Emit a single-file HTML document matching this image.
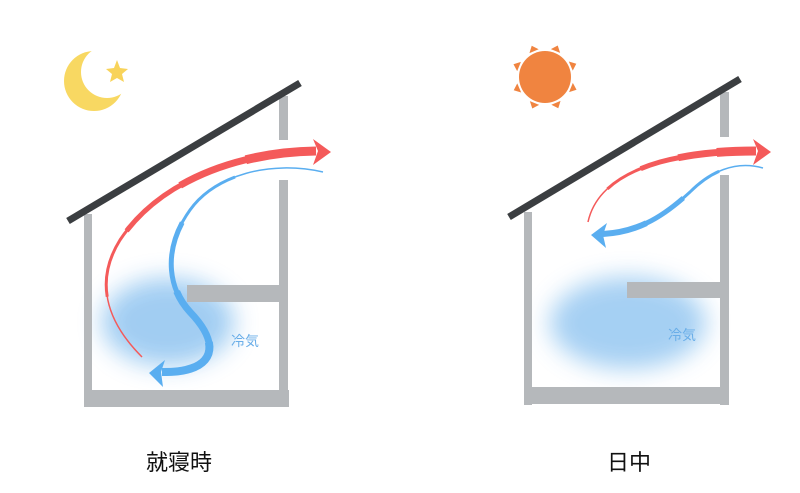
<!DOCTYPE html>
<html><head><meta charset="utf-8"><style>
html,body{margin:0;padding:0;background:#fff;}
svg{display:block}
text{font-family:"Liberation Sans","Noto Sans CJK JP",sans-serif;}
</style></head><body>
<svg width="800" height="493" viewBox="0 0 800 493" xmlns="http://www.w3.org/2000/svg">
<defs>
<filter id="blur" x="-50%" y="-50%" width="200%" height="200%"><feGaussianBlur stdDeviation="12"/></filter>
<mask id="moon"><rect width="800" height="493" fill="#000"/><circle cx="94" cy="81" r="30" fill="#fff"/><circle cx="107" cy="72" r="26" fill="#000"/></mask>
<path id="r1" d="M142,357 C105,320 95,280 120,240 C160,180 240,152 316,151" pathLength="100"/>
<path id="b1" d="M323,172 C270,160 215,175 190,210 C165,245 165,285 190,312 C215,338 215,358 195,367 C183,372 172,372 162,372" pathLength="100"/>
<path id="r2" d="M588,222 C595,190 625,172 660,162 C690,154 720,151 756,151" pathLength="100"/>
<path id="b2" d="M763,168 C735,160 710,172 690,192 C665,215 640,232 603,234" pathLength="100"/>
</defs>
<rect width="800" height="493" fill="#fff"/>

<!-- LEFT HOUSE -->
<ellipse cx="168" cy="322" rx="66" ry="44" fill="#9ccbf2" filter="url(#blur)" opacity="0.95"/>
<g fill="#b5b8bb">
<rect x="84" y="214" width="8" height="193"/>
<rect x="84" y="390" width="205" height="17"/>
<rect x="279" y="96" width="9" height="44"/>
<rect x="279" y="180" width="9" height="227"/>
<rect x="187" y="285" width="101" height="17"/>
</g>
<line x1="68" y1="221" x2="300" y2="83" stroke="#3b3e41" stroke-width="7"/>
<g fill="none" stroke="#f45a5a">
<use href="#r1" stroke-width="1.5"/>
<use href="#r1" stroke-width="3" stroke-dasharray="0 20 100"/>
<use href="#r1" stroke-width="5" stroke-dasharray="0 40 100"/>
<use href="#r1" stroke-width="7" stroke-dasharray="0 60 100"/>
<use href="#r1" stroke-width="9" stroke-dasharray="0 80 100"/>
</g>
<polygon points="331,152 313,139 318,151 313,165" fill="#f45a5a"/>
<g fill="none" stroke="#5aaef0">
<use href="#b1" stroke-width="1.5"/>
<use href="#b1" stroke-width="3" stroke-dasharray="0 25 100"/>
<use href="#b1" stroke-width="5" stroke-dasharray="0 45 100"/>
<use href="#b1" stroke-width="7" stroke-dasharray="0 65 100"/>
<use href="#b1" stroke-width="8" stroke-dasharray="0 82 100"/>
</g>
<polygon points="149,373 165,360 161,372 163,387" fill="#5aaef0"/>
<text x="231" y="346" font-size="14" fill="#6aaee8">冷気</text>
<rect x="55" y="45" width="70" height="75" fill="#f8d862" mask="url(#moon)"/>
<polygon points="117,60 120,68 128,69 122,74 124,82 117,78 110,82 112,74 106,69 114,68" fill="#f8d35a"/>

<!-- RIGHT HOUSE -->
<ellipse cx="628" cy="323" rx="78" ry="46" fill="#9ccbf2" filter="url(#blur)" opacity="0.9"/>
<g fill="#b5b8bb">
<rect x="524" y="212" width="8" height="193"/>
<rect x="524" y="387" width="205" height="17"/>
<rect x="720" y="92" width="9" height="45"/>
<rect x="720" y="175" width="9" height="230"/>
<rect x="627" y="282" width="101" height="16"/>
</g>
<line x1="509" y1="217" x2="740" y2="79" stroke="#3b3e41" stroke-width="7"/>
<g fill="none" stroke="#f45a5a">
<use href="#r2" stroke-width="1.5"/>
<use href="#r2" stroke-width="3" stroke-dasharray="0 20 100"/>
<use href="#r2" stroke-width="5" stroke-dasharray="0 40 100"/>
<use href="#r2" stroke-width="7" stroke-dasharray="0 60 100"/>
<use href="#r2" stroke-width="9" stroke-dasharray="0 80 100"/>
</g>
<polygon points="771,152 753,139 758,151 753,165" fill="#f45a5a"/>
<g fill="none" stroke="#5aaef0">
<use href="#b2" stroke-width="1.5"/>
<use href="#b2" stroke-width="3" stroke-dasharray="0 25 100"/>
<use href="#b2" stroke-width="5" stroke-dasharray="0 50 100"/>
<use href="#b2" stroke-width="6" stroke-dasharray="0 75 100"/>
</g>
<polygon points="591,235 607,223 603,235 606,248" fill="#5aaef0"/>
<text x="668" y="340" font-size="14" fill="#6aaee8">冷気</text>
<circle cx="545" cy="77" r="26" fill="#f08440"/>
<g fill="#f08440">
<polygon points="545,43 540,49 550,49" transform="rotate(22 545 77)"/>
<polygon points="545,43 540,49 550,49" transform="rotate(67 545 77)"/>
<polygon points="545,43 540,49 550,49" transform="rotate(112 545 77)"/>
<polygon points="545,43 540,49 550,49" transform="rotate(157 545 77)"/>
<polygon points="545,43 540,49 550,49" transform="rotate(202 545 77)"/>
<polygon points="545,43 540,49 550,49" transform="rotate(247 545 77)"/>
<polygon points="545,43 540,49 550,49" transform="rotate(292 545 77)"/>
<polygon points="545,43 540,49 550,49" transform="rotate(337 545 77)"/>
</g>

<text x="146" y="470" font-size="22" fill="#111">就寝時</text>
<text x="607" y="470" font-size="22" fill="#111">日中</text>
</svg>
</body></html>
